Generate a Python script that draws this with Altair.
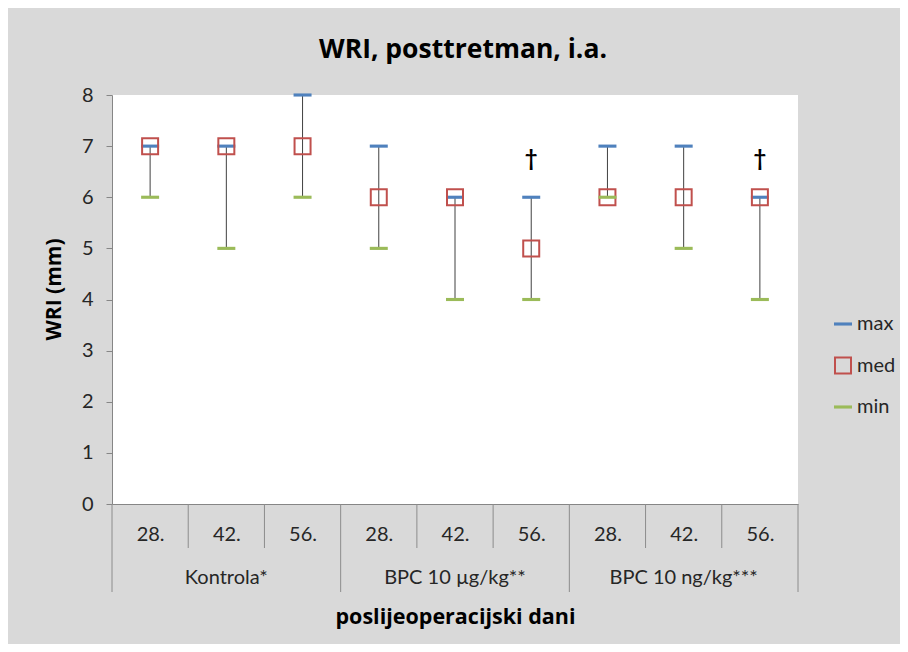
import json
import altair as alt
import pandas as pd

groups = ["Kontrola*", "BPC 10 µg/kg**", "BPC 10 ng/kg***"]
days = ["28.", "42.", "56."]
max_vals = [7, 7, 8, 7, 6, 6, 7, 7, 6]
med_vals = [7, 7, 7, 6, 6, 5, 6, 6, 6]
min_vals = [6, 5, 6, 5, 4, 4, 6, 5, 4]
notes = ["", "", "", "", "", "†", "", "", "†"]
series = ["max", "med", "min"]
colors = ["#4f81bd", "#c0504d", "#9bbb59"]

FONT = "Lato"
BFONT = "Open Sans"
W, H = 686, 409

rows = []
for i in range(len(max_vals)):
    rows.append(dict(pos=i + 0.5, group=groups[i // 3], day=days[i % 3],
                     max=max_vals[i], med=med_vals[i], min=min_vals[i], note=notes[i]))
wide = pd.DataFrame(rows)
long = wide.melt(id_vars=["pos"], value_vars=series, var_name="series", value_name="value")

n = len(max_vals)
seps = pd.DataFrame({"b": list(range(n + 1))})
gseps = pd.DataFrame({"b": list(range(0, n + 1, 3))})
glabels = pd.DataFrame({"group": groups, "pos": [1.5, 4.5, 7.5]})

xscale = alt.Scale(domain=[0, n], nice=False, zero=False)
label_expr = f"{json.dumps(days)}[floor(datum.value) % 3]"

xaxis = alt.Axis(values=[i + 0.5 for i in range(n)], labelExpr=label_expr, ticks=False, grid=False,
                 domainColor="#868686", labelFontSize=20, labelColor="#262626", labelPadding=20,
                 labelFont=FONT, title="poslijeoperacijski dani", titleFontSize=21.5,
                 titleFontWeight="bold", titleFont=BFONT, titleColor="#000000", titlePadding=62)
yaxis = alt.Axis(values=list(range(9)), grid=False, tickSize=6, tickColor="#868686",
                 domainColor="#868686", labelFontSize=20, labelColor="#262626", labelPadding=13,
                 labelFont=FONT, title="WRI (mm)", titleFontSize=21, titleFontWeight="bold",
                 titleFont=BFONT, titleColor="#000000", titlePadding=17, titleY=194)

base = alt.Chart(wide)

whisk = base.mark_rule(color="#404040", strokeWidth=1).encode(
    x=alt.X("pos:Q", scale=xscale, axis=xaxis),
    y=alt.Y("min:Q", scale=alt.Scale(domain=[0, 8], nice=False), axis=yaxis),
    y2="max:Q",
)

dash = "M-1,-0.07H1V0.07H-1Z"
leg = alt.Legend(orient="none", legendX=721, legendY=219, title=None, labelFontSize=20,
                 labelFont=FONT, labelColor="#262626", rowPadding=19.5, symbolSize=256,
                 symbolStrokeWidth=2, labelOffset=4)
pts = alt.Chart(long).mark_point(filled=False, strokeWidth=2, size=256, opacity=1).encode(
    x=alt.X("pos:Q", scale=xscale),
    y=alt.Y("value:Q"),
    color=alt.Color("series:N", scale=alt.Scale(domain=series, range=colors), legend=leg),
    shape=alt.Shape("series:N", scale=alt.Scale(domain=series, range=[dash, "square", dash]), legend=leg),
)

dag = base.mark_text(fontSize=22, fontWeight="bold", font=FONT, dy=-38, color="#000000").encode(
    x=alt.X("pos:Q", scale=xscale),
    y=alt.Y("max:Q"),
    text="note:N",
)

sep_short = alt.Chart(seps).mark_rule(color="#8c8c8c", strokeWidth=1).encode(
    x=alt.X("b:Q", scale=xscale), y=alt.value(H), y2=alt.value(H + 44))
sep_long = alt.Chart(gseps).mark_rule(color="#8c8c8c", strokeWidth=1).encode(
    x=alt.X("b:Q", scale=xscale), y=alt.value(H + 44), y2=alt.value(H + 88))
gtext = alt.Chart(glabels).mark_text(fontSize=20, font=FONT, color="#262626", baseline="middle").encode(
    x=alt.X("pos:Q", scale=xscale), y=alt.value(H + 74), text="group:N")

chart = alt.layer(whisk, pts, dag, sep_short, sep_long, gtext).properties(
    width=W, height=H,
    title=alt.TitleParams("WRI, posttretman, i.a.", fontSize=26.5, fontWeight="bold", font=BFONT,
                          anchor="middle", offset=-17, dx=8, color="#000000"),
    autosize=alt.AutoSizeParams(type="none"),
    padding={"left": 104, "top": 87, "right": 102, "bottom": 140},
    background="#d9d9d9",
).configure_view(fill="white", strokeWidth=0)

chart.save("out.html", embed_options={"renderer": "svg", "actions": False})
